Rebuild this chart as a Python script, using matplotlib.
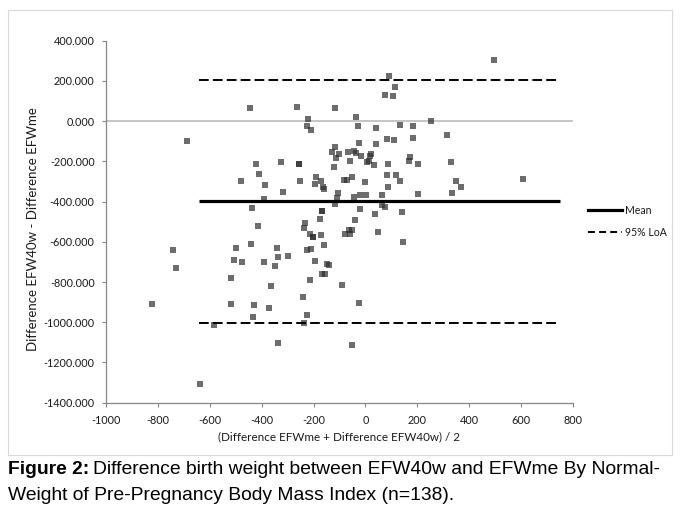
import matplotlib
matplotlib.use("Agg")
import matplotlib.pyplot as plt
from matplotlib.lines import Line2D
from matplotlib.patches import Rectangle
import numpy as np

# ---- data ----
x_mean_diff = [
    -445, -687, -423, -325, -410, -479, -388, -319, -392, -437,
    90, 113, 75, 106, -264, -117, -221, -37, -225, -210,
    -29, 40, 133, 183, 252, 314, 83, 110, 183, -25,
    40, -117, -129, -102, -113, -67, -44, -37, -17, 20,
    16, -60, 13, 6, 33, 87, 170, 167, 202, 329,
    -256, -256, -121, -190, -194, -171, -163, -160, -252, -83,
    -71, -52, -2, 83, 117, 133, 87, 347, 368, -106,
    -110, -117, -44, -21, 2, 63, 202, 333, 63, 75,
    140, -167, -167, -21, 37, -175, -40, 495, 605, -414,
    -741, -500, -442, -341, -729, -507, -475, -392, -337, -350,
    -297, -518, -364, -822, -518, -429, -373, -433, -583, -337,
    -638, -233, -237, -214, -202, -202, -171, -80, -65, -52,
    -61, 47, 144, -226, -210, -160, -194, -149, -140, -167,
    -156, -214, -90, -242, -25, -225, -237, -52,
]
y_diff = [
    67, -97, -212, -202, -261, -296, -316, -351, -389, -430,
    222, 171, 131, 126, 72, 67, 10, 20, -24, -43,
    -24, -33, -18, -23, 2, -68, -88, -93, -83, -107,
    -112, -127, -152, -162, -182, -152, -147, -157, -172, -162,
    -172, -197, -197, -202, -217, -212, -177, -197, -212, -202,
    -212, -212, -227, -276, -311, -296, -326, -336, -296, -291,
    -291, -276, -301, -266, -266, -296, -326, -296, -326, -356,
    -381, -411, -376, -366, -366, -366, -361, -356, -416, -426,
    -450, -446, -446, -436, -460, -485, -490, 304, -286, -520,
    -639, -629, -609, -629, -729, -689, -699, -699, -674, -719,
    -669, -779, -818, -908, -908, -913, -928, -973, -1012, -1102,
    -1306, -505, -530, -560, -575, -575, -565, -560, -540, -540,
    -560, -550, -600, -639, -634, -615, -694, -709, -714, -759,
    -759, -789, -814, -873, -903, -963, -1002, -1112,
]
mean_value = -398
loa_upper = 206
loa_lower = -1002
line_x_range = [-640, 750]

x_ticks = [-1000, -800, -600, -400, -200, 0, 200, 400, 600, 800]
y_ticks = [400, 200, 0, -200, -400, -600, -800, -1000, -1200, -1400]

W, H = 681, 514
fig = plt.figure(figsize=(W / 100, H / 100), dpi=100)
fig.patch.set_facecolor("white")

FONT = "Lato"
plt.rcParams["font.family"] = [FONT, "DejaVu Sans"]

# chart-area border
fig.add_artist(Rectangle((8 / W, 1 - 455 / H), (672 - 8) / W, (455 - 10) / H,
                         transform=fig.transFigure, fill=False,
                         edgecolor="#d9d9d9", linewidth=0.8))

left, right = 105.7 / W, 573.3 / W
top, bottom = 1 - 40.7 / H, 1 - 402.7 / H
ax = fig.add_axes([left, bottom, right - left, top - bottom])

ax.set_xlim(-1000, 800)
ax.set_ylim(-1400, 400)

ax.axhline(0, color="#c0c0c0", linewidth=1.3, zorder=1)

ax.scatter(x_mean_diff, y_diff, marker="s", s=19, color="#2c2c2c",
           alpha=0.69, linewidths=0, zorder=3)

ax.plot(line_x_range, [mean_value, mean_value], color="black",
        linewidth=2.3, solid_capstyle="butt", zorder=4)
lw_d = 1.4
dash = (0, (7.0 / lw_d, 3.0 / lw_d))
for v in (loa_upper, loa_lower):
    ax.plot(line_x_range, [v, v], color="black", linewidth=lw_d,
            linestyle=dash, zorder=4)

for s in ("top", "right"):
    ax.spines[s].set_visible(False)
for s in ("left", "bottom"):
    ax.spines[s].set_color("#868686")
    ax.spines[s].set_linewidth(0.9)

ax.set_xticks(x_ticks)
ax.set_xticklabels([str(t) for t in x_ticks])
ax.set_yticks(y_ticks)
ax.set_yticklabels([f"{t:.3f}" for t in y_ticks])
ax.tick_params(axis="both", direction="out", length=3, width=0.8,
               color="#868686", labelsize=7.8, labelcolor="#1a1a1a")
ax.tick_params(axis="y", pad=5)
ax.tick_params(axis="x", pad=6)

fig.text(339.5 / W, 1 - 437 / H, "(Difference EFWme + Difference EFW40w) / 2",
         ha="center", va="center", fontsize=8.4, color="#1a1a1a")
fig.text(33 / W, 1 - 229 / H, "Difference EFW40w - Difference EFWme",
         ha="center", va="center", rotation=90, fontsize=9.5, color="#1a1a1a")

# legend
fig.add_artist(Line2D([588 / W, 622 / W], [1 - 210 / H, 1 - 210 / H],
                      color="black", linewidth=2.3, transform=fig.transFigure))
fig.add_artist(Line2D([588 / W, 622 / W], [1 - 232 / H, 1 - 232 / H],
                      color="black", linewidth=lw_d, linestyle=(0, (5.0 / lw_d, 3.0 / lw_d)),
                      transform=fig.transFigure))
fig.text(625 / W, 1 - 210 / H, "Mean", ha="left", va="center",
         fontsize=7.6, color="#1a1a1a")
fig.text(625 / W, 1 - 232 / H, "95% LoA", ha="left", va="center",
         fontsize=7.6, color="#1a1a1a")

# caption
cap_font = ["Liberation Sans", "DejaVu Sans"]
cap_size = 13.9
t1 = fig.text(8 / W, 1 - 470 / H, "Figure 2:", ha="left", va="center",
              fontsize=cap_size, fontweight="bold", family=cap_font)
fig.canvas.draw()
bb = t1.get_window_extent()
fig.text((bb.x1 + 4) / W, 1 - 470 / H,
         "Difference birth weight between EFW40w and EFWme By Normal-",
         ha="left", va="center", fontsize=cap_size, family=cap_font)
fig.text(8 / W, 1 - 495 / H,
         "Weight of Pre-Pregnancy Body Mass Index (n=138).",
         ha="left", va="center", fontsize=cap_size, family=cap_font)

fig.savefig("out.png", dpi=100)
